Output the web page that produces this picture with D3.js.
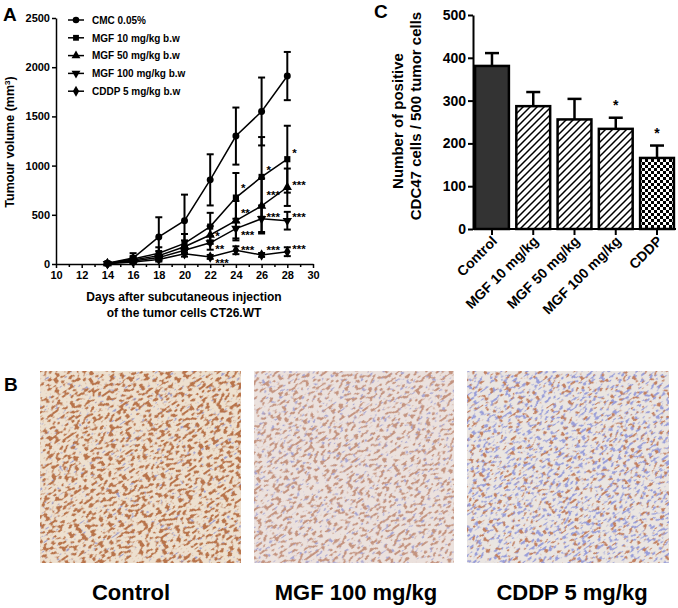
<!DOCTYPE html>
<html>
<head>
<meta charset="utf-8">
<script src="https://cdn.jsdelivr.net/npm/d3@7"></script>
<style>
  html, body { margin: 0; padding: 0; background: #fff; }
  svg { display: block; font-family: "Liberation Sans", Arial, sans-serif; font-weight: bold; }
</style>
</head>
<body>
<div id="fig"></div>
<script>
// ---- panel A data: tumour volume (mm3) by day ----
var days = [14, 16, 18, 20, 22, 24, 26, 28];
var groupNames = ["CMC 0.05%", "MGF 10 mg/kg b.w", "MGF 50 mg/kg b.w", "MGF 100 mg/kg b.w", "CDDP 5 mg/kg b.w"];
var cmcMean = [8, 60, 275, 440, 855, 1300, 1550, 1910];
var cmcErr = [10, 50, 200, 265, 260, 290, 345, 245];
var mgf10Mean = [6, 50, 110, 210, 380, 675, 885, 1065];
var mgf10Err = [5, 30, 60, 95, 140, 250, 405, 340];
var mgf50Mean = [5, 40, 85, 175, 295, 440, 590, 780];
var mgf50Err = [4, 20, 45, 65, 90, 200, 280, 190];
var mgf100Mean = [4, 30, 65, 140, 215, 360, 460, 440];
var mgf100Err = [4, 15, 30, 40, 70, 100, 135, 90];
var cddpMean = [3, 20, 45, 105, 72, 140, 92, 125];
var cddpErr = [3, 10, 20, 30, 20, 40, 20, 45];
var yTicksA = [0, 500, 1000, 1500, 2000, 2500];
var xTicksA = [10, 12, 14, 16, 18, 20, 22, 24, 26, 28, 30];
// significance marks: [day, volume, text]
var starsA = [
  [22, 300, "*"], [22, 175, "**"], [22, 30, "***"],
  [24, 790, "*"], [24, 540, "**"], [24, 315, "***"], [24, 160, "***"],
  [26, 975, "*"], [26, 720, "***"], [26, 500, "***"], [26, 160, "***"],
  [28, 1150, "*"], [28, 820, "***"], [28, 500, "***"], [28, 175, "***"]
];

// ---- panel C data ----
var cCategories = ["Control", "MGF 10 mg/kg", "MGF 50 mg/kg", "MGF 100 mg/kg", "CDDP"];
var cMeans = [381, 287, 256, 234, 166];
var cErrs = [30, 33, 48, 26, 29];
var cStars = ["", "", "", "*", "*"];
var yTicksC = [0, 100, 200, 300, 400, 500];

// ---- panel B labels ----
var photoLabels = ["Control", "MGF 100 mg/kg", "CDDP 5 mg/kg"];

var width = 678, height = 608;
var svg = d3.select("#fig").append("svg")
    .attr("width", width)
    .attr("height", height);

svg.append("rect").attr("width", width).attr("height", height).attr("fill", "#fff");
var defs = svg.append("defs");

// panel letters
svg.append("text").attr("x", 3).attr("y", 21).attr("font-size", 19).text("A");
svg.append("text").attr("x", 4).attr("y", 391).attr("font-size", 19).text("B");
svg.append("text").attr("x", 374).attr("y", 18).attr("font-size", 19).text("C");

// ================= panel A =================
var xA = d3.scaleLinear().domain([10, 30]).range([56, 313]);
var yA = d3.scaleLinear().domain([0, 2500]).range([264, 18]);

var gA = svg.append("g");

gA.append("g")
    .attr("transform", "translate(56,0)")
    .call(d3.axisLeft(yA).tickValues(yTicksA).tickFormat(d3.format("d"))
          .tickSize(4).tickSizeOuter(0).tickPadding(2));
gA.append("g")
    .attr("transform", "translate(0,264)")
    .call(d3.axisBottom(xA).tickValues(xTicksA).tickSize(4).tickSizeOuter(0).tickPadding(3));
gA.append("g")
    .attr("transform", "translate(0,264)")
    .call(d3.axisBottom(xA).tickValues(d3.range(11, 30, 2)).tickSize(3).tickFormat(""))
    .select(".domain").remove();

gA.selectAll(".domain, .tick line").attr("stroke", "#000").attr("stroke-width", 1.5);
gA.selectAll(".tick text").attr("font-size", 11).attr("font-weight", "bold").attr("fill", "#000")
    .attr("font-family", "Liberation Sans, Arial, sans-serif");

var yLab = gA.append("text")
    .attr("transform", "translate(14,142) rotate(-90)")
    .attr("text-anchor", "middle")
    .attr("font-size", 12.5);
yLab.append("tspan").text("Tumour volume (mm");
yLab.append("tspan").attr("baseline-shift", "super").attr("font-size", 8).text("3");
yLab.append("tspan").text(")");

gA.append("text").attr("x", 184).attr("y", 301).attr("text-anchor", "middle").attr("font-size", 12)
    .text("Days after subcutaneous injection");
gA.append("text").attr("x", 184).attr("y", 317).attr("text-anchor", "middle").attr("font-size", 12)
    .text("of the tumor cells CT26.WT");

var seriesA = [
  { name: groupNames[0], mean: cmcMean, err: cmcErr, sym: d3.symbolCircle, rot: 0 },
  { name: groupNames[1], mean: mgf10Mean, err: mgf10Err, sym: d3.symbolSquare, rot: 0 },
  { name: groupNames[2], mean: mgf50Mean, err: mgf50Err, sym: d3.symbolTriangle, rot: 0 },
  { name: groupNames[3], mean: mgf100Mean, err: mgf100Err, sym: d3.symbolTriangle, rot: 180 },
  { name: groupNames[4], mean: cddpMean, err: cddpErr, sym: d3.symbolDiamond, rot: 0 }
];

var line = d3.line()
    .x(function (d, i) { return xA(days[i]); })
    .y(function (d) { return yA(d); });

seriesA.forEach(function (s) {
  var g = gA.append("g");
  g.append("path").attr("d", line(s.mean)).attr("fill", "none")
      .attr("stroke", "#000").attr("stroke-width", 1.5);

  days.forEach(function (day, i) {
    var x = xA(day);
    var hi = yA(s.mean[i] + s.err[i]);
    var lo = yA(Math.max(0, s.mean[i] - s.err[i]));
    g.append("line").attr("x1", x).attr("x2", x).attr("y1", hi).attr("y2", lo)
        .attr("stroke", "#000").attr("stroke-width", 2);
    [hi, lo].forEach(function (yy) {
      g.append("line").attr("x1", x - 3.5).attr("x2", x + 3.5).attr("y1", yy).attr("y2", yy)
          .attr("stroke", "#000").attr("stroke-width", 2);
    });
    g.append("path")
        .attr("d", d3.symbol().type(s.sym).size(38)())
        .attr("transform", "translate(" + x + "," + yA(s.mean[i]) + ") rotate(" + s.rot + ")")
        .attr("fill", "#000");
  });
});

gA.selectAll(".starA").data(starsA).enter().append("text")
    .attr("class", "starA")
    .attr("x", function (d) { return xA(d[0]) + 5; })
    .attr("y", function (d) { return yA(d[1]) + 6; })
    .attr("font-size", 11.5)
    .text(function (d) { return d[2]; });

// legend
var legend = gA.append("g");
seriesA.forEach(function (s, i) {
  var y = 20 + i * 17.8;
  legend.append("line").attr("x1", 68).attr("x2", 84).attr("y1", y).attr("y2", y)
      .attr("stroke", "#000").attr("stroke-width", 1.5);
  legend.append("path")
      .attr("d", d3.symbol().type(s.sym).size(34)())
      .attr("transform", "translate(76," + y + ") rotate(" + s.rot + ")")
      .attr("fill", "#000");
  legend.append("text").attr("x", 92).attr("y", y + 3.8).attr("font-size", 10).text(s.name);
});

// ================= panel C =================
var hatch = defs.append("pattern").attr("id", "hatch")
    .attr("patternUnits", "userSpaceOnUse").attr("width", 7).attr("height", 7);
hatch.append("rect").attr("width", 7).attr("height", 7).attr("fill", "#fff");
hatch.append("path").attr("d", "M-1,1 l2,-2 M0,7 l7,-7 M6,8 l2,-2")
    .attr("stroke", "#000").attr("stroke-width", 1.5);

var checker = defs.append("pattern").attr("id", "checker")
    .attr("patternUnits", "userSpaceOnUse").attr("width", 6).attr("height", 6);
checker.append("rect").attr("width", 6).attr("height", 6).attr("fill", "#fff");
checker.append("rect").attr("width", 3).attr("height", 3).attr("fill", "#000");
checker.append("rect").attr("x", 3).attr("y", 3).attr("width", 3).attr("height", 3).attr("fill", "#000");

var barFills = ["#333", "url(#hatch)", "url(#hatch)", "url(#hatch)", "url(#checker)"];

var xC = d3.scaleBand().domain(cCategories).range([473, 676]).paddingInner(0.18).paddingOuter(0.05);
var yC = d3.scaleLinear().domain([0, 500]).range([229, 15]);

var gC = svg.append("g");

gC.selectAll(".bar").data(cCategories).enter().append("rect")
    .attr("class", "bar")
    .attr("x", function (d) { return xC(d); })
    .attr("y", function (d, i) { return yC(cMeans[i]); })
    .attr("width", xC.bandwidth())
    .attr("height", function (d, i) { return yC(0) - yC(cMeans[i]); })
    .attr("fill", function (d, i) { return barFills[i]; })
    .attr("stroke", "#000").attr("stroke-width", 2.5);

cCategories.forEach(function (c, i) {
  var cx = xC(c) + xC.bandwidth() / 2;
  var top = yC(cMeans[i] + cErrs[i]);
  gC.append("line").attr("x1", cx).attr("x2", cx).attr("y1", yC(cMeans[i])).attr("y2", top)
      .attr("stroke", "#000").attr("stroke-width", 2.5);
  gC.append("line").attr("x1", cx - 7).attr("x2", cx + 7).attr("y1", top).attr("y2", top)
      .attr("stroke", "#000").attr("stroke-width", 2.5);
  if (cStars[i]) {
    gC.append("text").attr("x", cx).attr("y", top - 8).attr("text-anchor", "middle")
        .attr("font-size", 14).text(cStars[i]);
  }
});

var yAxisC = gC.append("g").attr("transform", "translate(473,0)")
    .call(d3.axisLeft(yC).tickValues(yTicksC).tickSize(5).tickSizeOuter(0).tickPadding(2));
var xAxisC = gC.append("g").attr("transform", "translate(0,229)")
    .call(d3.axisBottom(xC).tickSize(6).tickSizeOuter(0).tickFormat(""));
xAxisC.select(".domain").attr("d", "M473,0H676");

gC.selectAll(".domain, .tick line").attr("stroke", "#000").attr("stroke-width", 2);
yAxisC.selectAll(".tick text").attr("font-size", 14).attr("font-weight", "bold").attr("fill", "#000")
    .attr("font-family", "Liberation Sans, Arial, sans-serif");

gC.selectAll(".xlabC").data(cCategories).enter().append("text")
    .attr("class", "xlabC")
    .attr("transform", function (d) {
      return "translate(" + (xC(d) + xC.bandwidth() / 2 + 6) + ",242) rotate(-45)";
    })
    .attr("text-anchor", "end")
    .attr("font-size", 14)
    .text(function (d) { return d; });

gC.append("text").attr("transform", "translate(403,121) rotate(-90)")
    .attr("text-anchor", "middle").attr("font-size", 15).text("Number of positive");
gC.append("text").attr("transform", "translate(421,116) rotate(-90)")
    .attr("text-anchor", "middle").attr("font-size", 15).text("CDC47 cells / 500 tumor cells");

// ================= panel B (stained sections) =================
var photos = [
  { x: 40, w: 201, labelX: 131, bg: "#ede0cf",
    layers: [{ c: [0.62, 0.62, 0.80], f: "0.22 0.40", seed: 11, th: 0.66, k: 14 },
             { c: [0.72, 0.45, 0.29], f: "0.21 0.36", seed: 3, th: 0.53, k: 14 }] },
  { x: 254, w: 200, labelX: 356, bg: "#ebe1dd",
    layers: [{ c: [0.66, 0.65, 0.82], f: "0.22 0.40", seed: 21, th: 0.62, k: 14 },
             { c: [0.77, 0.58, 0.50], f: "0.21 0.36", seed: 5, th: 0.555, k: 14 }] },
  { x: 467, w: 202, labelX: 572, bg: "#eae5e1",
    layers: [{ c: [0.60, 0.62, 0.85], f: "0.22 0.42", seed: 7, th: 0.56, k: 14 },
             { c: [0.76, 0.50, 0.38], f: "0.21 0.36", seed: 17, th: 0.60, k: 14 }] }
];
var photoY = 371, photoH = 192;

photos.forEach(function (p, i) {
  var f = defs.append("filter").attr("id", "tissue" + i)
      .attr("x", 0).attr("y", 0).attr("width", 1).attr("height", 1)
      .attr("color-interpolation-filters", "sRGB");
  f.append("feFlood").attr("flood-color", p.bg).attr("result", "bg");
  p.layers.forEach(function (l, j) {
    f.append("feTurbulence").attr("type", "fractalNoise").attr("baseFrequency", l.f)
        .attr("numOctaves", 1).attr("seed", l.seed).attr("result", "t" + j);
    f.append("feColorMatrix").attr("in", "t" + j).attr("type", "matrix")
        .attr("values", "0 0 0 0 " + l.c[0] + " 0 0 0 0 " + l.c[1] + " 0 0 0 0 " + l.c[2] +
              " " + l.k + " 0 0 0 " + (-l.k * l.th))
        .attr("result", "l" + j);
  });
  var merge = f.append("feMerge");
  merge.append("feMergeNode").attr("in", "bg");
  p.layers.forEach(function (l, j) { merge.append("feMergeNode").attr("in", "l" + j); });

  defs.append("clipPath").attr("id", "clip" + i)
      .append("rect").attr("x", p.x).attr("y", photoY).attr("width", p.w).attr("height", photoH);

  var cx = p.x + p.w / 2, cy = photoY + photoH / 2;
  svg.append("g").attr("clip-path", "url(#clip" + i + ")")
      .append("rect")
      .attr("x", cx - 160).attr("y", cy - 160).attr("width", 320).attr("height", 320)
      .attr("fill", "#fff")
      .attr("transform", "rotate(-35," + cx + "," + cy + ")")
      .attr("filter", "url(#tissue" + i + ")");

  svg.append("text").attr("x", p.labelX).attr("y", 600).attr("text-anchor", "middle")
      .attr("font-size", 22).text(photoLabels[i]);
});
</script>
</body>
</html>
